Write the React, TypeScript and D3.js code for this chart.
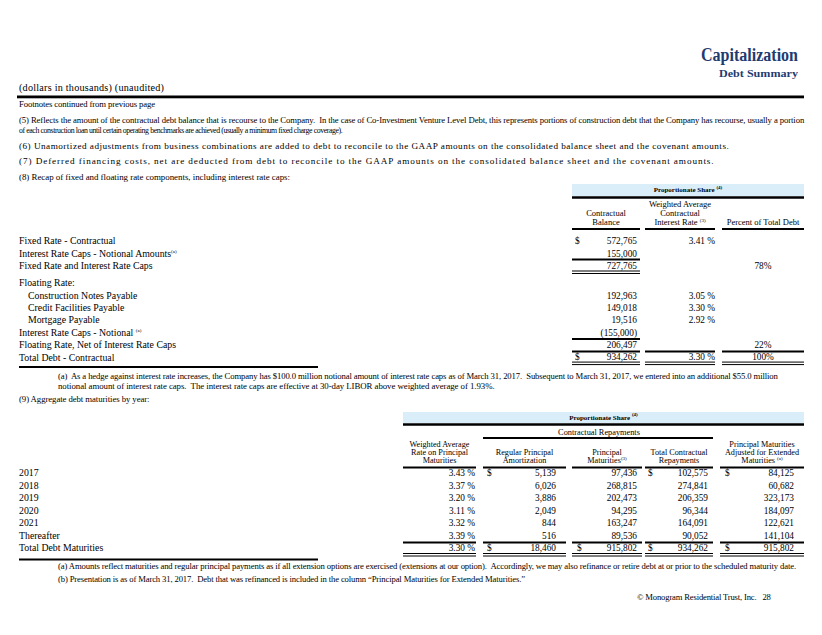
import React from "react";
import * as d3 from "d3";

const NAVY = "#1f3b6f";
const BAND = "#daeef9";
const FONT = "'Liberation Serif', 'Times New Roman', serif";

// ---------- Data: table 1 (fixed / floating recap) ----------
const t1Labels = [
  "Fixed Rate - Contractual",
  "Interest Rate Caps - Notional Amounts",
  "Fixed Rate and Interest Rate Caps",
  "Floating Rate:",
  "Construction Notes Payable",
  "Credit Facilities Payable",
  "Mortgage Payable",
  "Interest Rate Caps - Notional",
  "Floating Rate, Net of Interest Rate Caps",
  "Total Debt - Contractual",
];
const t1Sup = ["", "(a)", "", "", "", "", "", "(a)", "", ""];
const t1Indent = [0, 0, 0, 0, 1, 1, 1, 0, 0, 0];
const t1Slot = [0, 1, 2, 3.4, 4.4, 5.4, 6.4, 7.4, 8.4, 9.4];
const t1Balance: (number | null)[] = [572765, 155000, 727765, null, 192963, 149018, 19516, -155000, 206497, 934262];
const t1Rate: (number | null)[] = [3.41, null, null, null, 3.05, 3.3, 2.92, null, null, 3.3];
const t1Pct: (number | null)[] = [null, null, 78, null, null, null, null, null, 22, 100];
const t1Dollar = [1, 0, 0, 0, 0, 0, 0, 0, 0, 1];

// ---------- Data: table 2 (maturities) ----------
const t2Years = ["2017", "2018", "2019", "2020", "2021", "Thereafter", "Total Debt Maturities"];
const t2Rate = [3.43, 3.37, 3.2, 3.11, 3.32, 3.39, 3.3];
const t2Regular = [5139, 6026, 3886, 2049, 844, 516, 18460];
const t2Principal = [97436, 268815, 202473, 94295, 163247, 89536, 915802];
const t2Total = [102575, 274841, 206359, 96344, 164091, 90052, 934262];
const t2Adjusted = [84125, 60682, 323173, 184097, 122621, 141104, 915802];
const t2DollarRows = [0, 6];

// ---------- Text ----------
const topNotes = [
  { t: "Footnotes continued from previous page", y: 104, x1: 155 },
  { t: "(5) Reflects the amount of the contractual debt balance that is recourse to the Company.  In the case of Co-Investment Venture Level Debt, this represents portions of construction debt that the Company has recourse, usually a portion", y: 120, x1: 803 },
  { t: "of each construction loan until certain operating benchmarks are achieved (usually a minimum fixed charge coverage).", y: 130, x1: 342 },
  { t: "(6) Unamortized adjustments from business combinations are added to debt to reconcile to the GAAP amounts on the consolidated balance sheet and the covenant amounts.", y: 146, x1: 729 },
  { t: "(7) Deferred financing costs, net are deducted from debt to reconcile to the GAAP amounts on the consolidated balance sheet and the covenant amounts.", y: 161, x1: 714 },
  { t: "(8) Recap of fixed and floating rate components, including interest rate caps:", y: 177, x1: 290 },
];
const t1Notes = [
  { t: "(a)  As a hedge against interest rate increases, the Company has $100.0 million notional amount of interest rate caps as of March 31, 2017.  Subsequent to March 31, 2017, we entered into an additional $55.0 million", y: 376, x1: 777 },
  { t: "notional amount of interest rate caps.  The interest rate caps are effective at 30-day LIBOR above weighted average of 1.93%.", y: 386, x1: 494 },
];
const t2Notes = [
  { t: "(a) Amounts reflect maturities and regular principal payments as if all extension options are exercised (extensions at our option).  Accordingly, we may also refinance or retire debt at or prior to the scheduled maturity date.", y: 566, x1: 797 },
  { t: "(b) Presentation is as of March 31, 2017.  Debt that was refinanced is included in the column \u201cPrincipal Maturities for Extended Maturities.\u201d", y: 579, x1: 525 },
];

const fmtInt = d3.format(",");
const fmtNum = (v: number) => (v < 0 ? `(${fmtInt(-v)})` : fmtInt(v));
const fmtRate = (v: number) => `${d3.format(".2f")(v)} %`;

let ctx: CanvasRenderingContext2D | null = null;
function measure(text: string, size: number, weight = "normal") {
  if (!ctx && typeof document !== "undefined") {
    ctx = document.createElement("canvas").getContext("2d");
  }
  if (!ctx) return text.length * size * 0.42;
  ctx.font = `${weight} ${size}px 'Liberation Serif'`;
  return ctx.measureText(text).width;
}

type TP = {
  x: number;
  y: number;
  size?: number;
  anchor?: "start" | "middle" | "end";
  weight?: string;
  fill?: string;
  children?: React.ReactNode;
  spacing?: number;
  len?: number;
};
const T = ({ x, y, size = 9.3, anchor = "start", weight = "normal", fill = "#000", children, spacing, len }: TP) => (
  <text
    x={x}
    y={y}
    dy="0.35em"
    fontSize={size}
    textAnchor={anchor}
    fontWeight={weight}
    fill={fill}
    fontFamily={FONT}
    letterSpacing={spacing}
    {...(len ? { textLength: len, lengthAdjust: "spacingAndGlyphs" } : {})}
    style={{ whiteSpace: "pre" }}
  >
    {children}
  </text>
);
const Sup = ({ children }: { children: React.ReactNode }) => (
  <tspan fontSize={5} dy="-3.5">{children}</tspan>
);

const Note = ({ x0, x1, y, t, base = 9 }: { x0: number; x1: number; y: number; t: string; base?: number }) => {
  const target = x1 - x0;
  const ratio = target / measure(t, base);
  const size = Math.max(7.8, Math.min(base + 0.2, base * Math.sqrt(ratio)));
  const natural = measure(t, size);
  const extra = (target - natural) / Math.max(1, t.length - 1);
  return <T x={x0} y={y} size={+size.toFixed(2)} spacing={+extra.toFixed(3)}>{t}</T>;
};

const HL = ({ x0, x1, y, w = 1 }: { x0: number; x1: number; y: number; w?: number }) => (
  <line x1={x0} x2={x1} y1={y} y2={y} stroke="#000" strokeWidth={w} />
);
const DL = ({ x0, x1, y }: { x0: number; x1: number; y: number }) => (
  <g>
    <HL x0={x0} x1={x1} y={y} w={1} />
    <HL x0={x0} x1={x1} y={y + 2.5} w={1} />
  </g>
);

const LABEL = 9.8;

export default function App() {
  const y1 = d3.scaleLinear().domain([0, 1]).range([241, 253.35]);
  const y2 = d3.scaleLinear().domain([0, 1]).range([473, 485.5]);

  const c1 = [
    { x0: 572, x1: 640 },
    { x0: 645, x1: 715 },
    { x0: 722, x1: 804 },
  ];
  const c2 = [
    { x0: 403, x1: 476, right: 475, dollar: 0 },
    { x0: 483, x1: 566, right: 556, dollar: 487 },
    { x0: 572, x1: 642, right: 637, dollar: 577 },
    { x0: 645, x1: 713, right: 708, dollar: 648 },
    { x0: 720, x1: 804, right: 794, dollar: 725 },
  ];
  const t2Values = [t2Regular, t2Principal, t2Total, t2Adjusted];

  const last1 = t1Slot[t1Slot.length - 1];
  const last2 = t2Years.length - 1;

  return (
    <svg
      width={822}
      height={635}
      style={{ position: "absolute", left: 0, top: 0, background: "#fff" }}
      fontFamily={FONT}
    >
      <rect width={822} height={635} fill="#fff" />
      {/* Header */}
      <T x={798} y={55} size={18.5} anchor="end" weight="bold" fill={NAVY} len={97}>Capitalization</T>
      <T x={798} y={73} size={11} anchor="end" weight="bold" fill={NAVY} len={79}>Debt Summary</T>
      <Note x0={19} x1={164} y={87.5} t="(dollars in thousands) (unaudited)" base={10} />
      <rect x={17} y={95.5} width={787} height={2.8} fill="#000" />

      {topNotes.map((n, i) => (
        <Note key={i} x0={19} x1={n.x1} y={n.y} t={n.t} />
      ))}

      {/* ---------- Table 1 ---------- */}
      <rect x={572} y={184} width={232} height={12} fill={BAND} />
      <HL x0={572} x1={804} y={197.5} w={2.5} />
      <T x={688} y={190} size={7} anchor="middle" weight="bold">Proportionate Share <Sup>(4)</Sup></T>
      <T x={(c1[0].x0 + c1[0].x1) / 2} y={213} size={8.5} anchor="middle">Contractual</T>
      <T x={(c1[0].x0 + c1[0].x1) / 2} y={222.5} size={8.5} anchor="middle">Balance</T>
      <T x={(c1[1].x0 + c1[1].x1) / 2} y={204} size={8.5} anchor="middle">Weighted Average</T>
      <T x={(c1[1].x0 + c1[1].x1) / 2} y={213} size={8.5} anchor="middle">Contractual</T>
      <T x={(c1[1].x0 + c1[1].x1) / 2} y={222.5} size={8.5} anchor="middle">Interest Rate <Sup>(3)</Sup></T>
      <T x={(c1[2].x0 + c1[2].x1) / 2} y={222.5} size={8.5} anchor="middle">Percent of Total Debt</T>
      {c1.map((c, i) => (
        <HL key={i} x0={c.x0} x1={c.x1} y={229} w={2} />
      ))}

      {t1Labels.map((l, i) => (
        <T key={i} x={t1Indent[i] ? 28 : 19} y={y1(t1Slot[i])} size={LABEL}>
          {l}
          {t1Sup[i] ? <Sup>{(i === 7 ? "  " : "") + t1Sup[i]}</Sup> : null}
        </T>
      ))}
      {t1Balance.map((v, i) =>
        v === null ? null : (
          <g key={i}>
            {t1Dollar[i] ? <T x={575} y={y1(t1Slot[i])}>$</T> : null}
            <T x={637} y={y1(t1Slot[i])} anchor="end">{fmtNum(v)}</T>
          </g>
        )
      )}
      {t1Rate.map((v, i) =>
        v === null ? null : (
          <T key={i} x={715} y={y1(t1Slot[i])} anchor="end">{fmtRate(v)}</T>
        )
      )}
      {t1Pct.map((v, i) =>
        v === null ? null : (
          <T key={i} x={(c1[2].x0 + c1[2].x1) / 2} y={y1(t1Slot[i])} anchor="middle">{`${v}%`}</T>
        )
      )}
      <HL x0={c1[0].x0} x1={c1[0].x1} y={259.5} w={2} />
      <DL x0={c1[0].x0} x1={c1[0].x1} y={271} />
      <HL x0={c1[0].x0} x1={c1[0].x1} y={y1(7.4) + 6.5} w={2} />
      {c1.map((c, i) => (
        <g key={i}>
          <HL x0={c.x0} x1={c.x1} y={y1(last1) - 5.5} w={2} />
          <DL x0={c.x0} x1={c.x1} y={y1(last1) + 5} />
        </g>
      ))}
      <HL x0={19} x1={318} y={367} w={2} />
      {t1Notes.map((n, i) => (
        <Note key={i} x0={58} x1={n.x1} y={n.y} t={n.t} />
      ))}

      {/* ---------- Table 2 ---------- */}
      <Note x0={19} x1={150} y={399} t="(9) Aggregate debt maturities by year:" />
      <rect x={403} y={412} width={401} height={11} fill={BAND} />
      <HL x0={403} x1={804} y={424.5} w={2.5} />
      <T x={603.5} y={417.5} size={7} anchor="middle" weight="bold">Proportionate Share <Sup>(4)</Sup></T>
      <T x={599} y={432} size={8.3} anchor="middle">Contractual Repayments</T>
      <HL x0={483} x1={713} y={438} w={2} />
      <T x={(c2[0].x0 + c2[0].x1) / 2} y={444.5} size={8.2} anchor="middle">Weighted Average</T>
      <T x={(c2[0].x0 + c2[0].x1) / 2} y={452.5} size={8.2} anchor="middle">Rate on Principal</T>
      <T x={(c2[0].x0 + c2[0].x1) / 2} y={460.5} size={8.2} anchor="middle">Maturities</T>
      <T x={(c2[1].x0 + c2[1].x1) / 2} y={452.5} size={8.2} anchor="middle">Regular Principal</T>
      <T x={(c2[1].x0 + c2[1].x1) / 2} y={460.5} size={8.2} anchor="middle">Amortization</T>
      <T x={(c2[2].x0 + c2[2].x1) / 2} y={452.5} size={8.2} anchor="middle">Principal</T>
      <T x={(c2[2].x0 + c2[2].x1) / 2} y={460.5} size={8.2} anchor="middle">Maturities<Sup>(3)</Sup></T>
      <T x={(c2[3].x0 + c2[3].x1) / 2} y={452.5} size={8.2} anchor="middle">Total Contractual</T>
      <T x={(c2[3].x0 + c2[3].x1) / 2} y={460.5} size={8.2} anchor="middle">Repayments</T>
      <T x={(c2[4].x0 + c2[4].x1) / 2} y={444.5} size={8.2} anchor="middle">Principal Maturities</T>
      <T x={(c2[4].x0 + c2[4].x1) / 2} y={452.5} size={8.2} anchor="middle">Adjusted for Extended</T>
      <T x={(c2[4].x0 + c2[4].x1) / 2} y={460.5} size={8.2} anchor="middle">Maturities <Sup>(a)</Sup></T>
      {c2.map((c, i) => (
        <HL key={i} x0={c.x0} x1={c.x1} y={467.5} w={2} />
      ))}

      {t2Years.map((yr, i) => (
        <g key={i}>
          <T x={19} y={y2(i)} size={LABEL}>{yr}</T>
          <T x={c2[0].right} y={y2(i)} anchor="end">{fmtRate(t2Rate[i])}</T>
          {t2Values.map((arr, j) => {
            const col = c2[j + 1];
            const showDollar = t2DollarRows.includes(i) && !(i === 0 && j === 1);
            return (
              <g key={j}>
                {showDollar ? <T x={col.dollar} y={y2(i)}>$</T> : null}
                <T x={col.right} y={y2(i)} anchor="end">{fmtInt(arr[i])}</T>
              </g>
            );
          })}
        </g>
      ))}
      {c2.map((c, i) => (
        <g key={i}>
          <HL x0={c.x0} x1={c.x1} y={y2(last2) - 5.5} w={2} />
          <DL x0={c.x0} x1={c.x1} y={y2(last2) + 5.5} />
        </g>
      ))}
      <HL x0={19} x1={318} y={559.5} w={2} />
      {t2Notes.map((n, i) => (
        <Note key={i} x0={58} x1={n.x1} y={n.y} t={n.t} />
      ))}

      {/* Footer */}
      <Note x0={637} x1={771} y={597} t={"\u00a9 Monogram Residential Trust, Inc.   28"} />
    </svg>
  );
}
